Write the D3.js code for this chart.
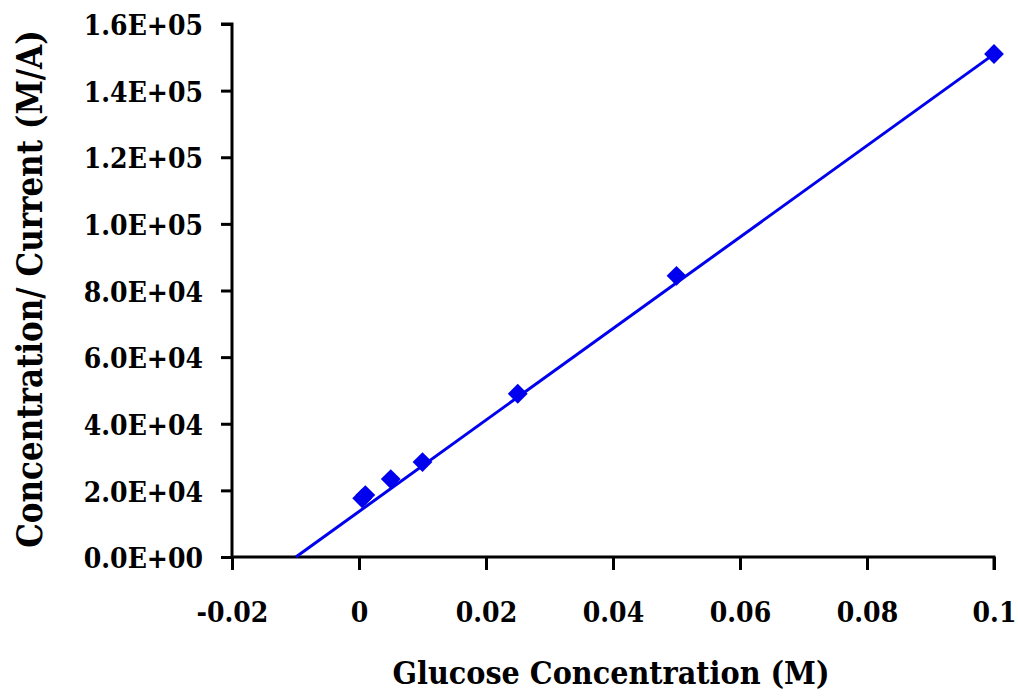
<!DOCTYPE html>
<html><head><meta charset="utf-8">
<script src="https://cdn.jsdelivr.net/npm/d3@7"></script>
<style>body{margin:0;background:#fff}svg{display:block}</style>
</head><body>
<script>
const concentration = [0.0005, 0.001, 0.005, 0.01, 0.025, 0.05, 0.1];
const ratio = [17600, 18600, 23400, 28500, 49000, 84400, 151000];
const xTicks = [-0.02, 0, 0.02, 0.04, 0.06, 0.08, 0.1];
const xTickLabels = ["-0.02", "0", "0.02", "0.04", "0.06", "0.08", "0.1"];
const yTicks = [0, 20000, 40000, 60000, 80000, 100000, 120000, 140000, 160000];
const yTickLabels = ["0.0E+00","2.0E+04","4.0E+04","6.0E+04","8.0E+04","1.0E+05","1.2E+05","1.4E+05","1.6E+05"];
const trendSlope = 1373000;
const trendIntercept = 13650;
const xLabel = "Glucose Concentration (M)";
const yLabel = "Concentration/ Current (M/A)";

const W = 1018, H = 698;
const svg = d3.select("body").append("svg").attr("width", W).attr("height", H);
const x = d3.scaleLinear().domain([-0.02, 0.1]).range([232, 994]);
const y = d3.scaleLinear().domain([0, 160000]).range([557, 24]);
const font = "'DejaVu Serif Condensed', 'DejaVu Serif', serif";

function styleText(sel, size) {
  sel.attr("font-family", font).attr("font-weight", "bold").attr("font-stretch", "condensed")
     .attr("font-size", size).attr("fill", "#000");
}

// y axis
const yAxis = d3.axisLeft(y).tickValues(yTicks).tickSize(11).tickPadding(18)
  .tickFormat((d,i) => yTickLabels[i]);
const gy = svg.append("g").attr("transform", `translate(${x(-0.02)},0)`).call(yAxis);
gy.select(".domain").attr("stroke", "#000").attr("stroke-width", 3).attr("d", `M-11,${y(160000)}H0V${y(0)}`);
gy.selectAll(".tick line").attr("stroke", "#000").attr("stroke-width", 3);
styleText(gy.selectAll(".tick text").attr("dy", "0.38em"), 28);

// x axis
const xAxis = d3.axisBottom(x).tickValues(xTicks).tickSize(13).tickPadding(26)
  .tickFormat((d,i) => xTickLabels[i]);
const gx = svg.append("g").attr("transform", `translate(0,${y(0)})`).call(xAxis);
gx.select(".domain").attr("stroke", "#000").attr("stroke-width", 3).attr("d", `M${x(-0.02)},0H${x(0.1)}V13`);
gx.selectAll(".tick line").attr("stroke", "#000").attr("stroke-width", 3);
styleText(gx.selectAll(".tick text").attr("y", 65).attr("dy", 0), 28);

// trendline
const x0 = -trendIntercept / trendSlope;
const trend = [x0, 0.1].map(c => [c, trendSlope * c + trendIntercept]);
svg.append("path").datum(trend)
  .attr("d", d3.line().x(d => x(d[0])).y(d => y(d[1])))
  .attr("fill", "none").attr("stroke", "#0000ee").attr("stroke-width", 3);

// markers
const diamond = d3.symbol().type(d3.symbolDiamond2).size(250);
svg.append("g").selectAll("path").data(concentration).join("path")
  .attr("transform", (d,i) => `translate(${x(d)},${y(ratio[i])})`)
  .attr("d", diamond).attr("fill", "#0000ee");

// labels, sized to the reference's text widths
function fitLabel(t, target) {
  const len = t.node().getComputedTextLength();
  t.attr("font-size", 26 * target / len);
}
const xl = svg.append("text").attr("x", 611).attr("y", 684).attr("text-anchor", "middle").text(xLabel);
styleText(xl, 26); fitLabel(xl, 437);
const yl = svg.append("text").attr("transform", `translate(42,289) rotate(-90)`).attr("text-anchor", "middle").text(yLabel);
styleText(yl, 26); fitLabel(yl, 518);
</script>
</body></html>
